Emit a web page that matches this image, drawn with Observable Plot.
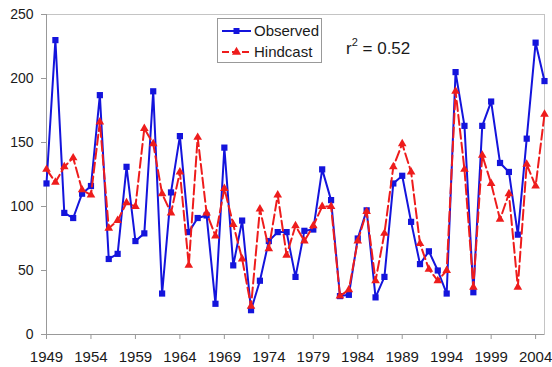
<!DOCTYPE html>
<html><head><meta charset="utf-8">
<script src="https://cdn.jsdelivr.net/npm/d3@7"></script>
<script src="https://cdn.jsdelivr.net/npm/@observablehq/plot@0.6"></script>
<style>
body{margin:0;background:#fff;font-family:"Liberation Sans",Arial,sans-serif;}
#wrap{position:relative;width:552px;height:367px;}
#legend{position:absolute;left:217px;top:18px;width:105px;height:45px;border:1px solid #999;background:#fff;box-sizing:border-box;}
#r2{position:absolute;left:346px;top:37px;font-size:17px;color:#1a1a1a;white-space:nowrap;}
#r2 sup{font-size:11px;position:relative;top:-1px;}
</style>
</head><body>
<div id="wrap"><div id="chart"></div><div id="legend"></div><div id="r2">r<sup>2</sup> = 0.52</div></div>
<script>
const years = [1949,1950,1951,1952,1953,1954,1955,1956,1957,1958,1959,1960,1961,1962,1963,1964,1965,1966,1967,1968,1969,1970,1971,1972,1973,1974,1975,1976,1977,1978,1979,1980,1981,1982,1983,1984,1985,1986,1987,1988,1989,1990,1991,1992,1993,1994,1995,1996,1997,1998,1999,2000,2001,2002,2003,2004,2005];
const observed = [118,230,95,91,110,116,187,59,63,131,73,79,190,32,111,155,80,91,93,24,146,54,89,19,42,73,80,80,45,81,82,129,105,30,31,75,97,29,45,118,124,88,55,65,50,32,205,163,33,163,182,134,127,78,153,228,198];
const hindcast = [129,119,131,138,113,109,166,83,89,103,100,161,149,110,95,127,54,154,95,77,114,86,59,22,98,67,109,62,85,73,85,100,100,30,35,73,96,42,79,131,149,127,71,51,42,50,190,129,37,140,118,90,110,37,133,116,172];
const xTicks = [1949,1954,1959,1964,1969,1974,1979,1984,1989,1994,1999,2004];
const yTicks = [0,50,100,150,200,250];
const seriesNames = ["Observed","Hindcast"];
const blue = "#1414dc", red = "#ee1c1c";

const data = years.map((year,i)=>({year, observed: observed[i], hindcast: hindcast[i]}));

const chart = Plot.plot({
  width:552, height:367,
  marginLeft:46, marginRight:8, marginTop:14, marginBottom:33,
  style:{fontFamily:"'Liberation Sans', Arial, sans-serif", fontSize:"14px", color:"#1a1a1a", background:"transparent"},
  x:{domain:[xTicks[0], years[years.length-1]]},
  y:{domain:[yTicks[0], yTicks[yTicks.length-1]]},
  marks:[
    Plot.frame({stroke:"#c4c4c4"}),
    Plot.ruleX([xTicks[0]],{stroke:"#999"}),
    Plot.ruleY([yTicks[0]],{stroke:"#999"}),
    Plot.axisY({ticks:yTicks, tickSize:5, tickPadding:8, label:null, stroke:"#999", fontSize:14}),
    Plot.axisX({ticks:xTicks, tickSize:5, tickPadding:12, label:null, stroke:"#999", tickFormat:d=>String(d), fontSize:15}),
    Plot.line(data,{x:"year", y:"observed", stroke:blue, strokeWidth:2}),
    Plot.dot(data,{x:"year", y:"observed", symbol:"square", fill:blue, r:3.5}),
    Plot.line(data,{x:"year", y:"hindcast", stroke:red, strokeWidth:2, strokeDasharray:"10,4"}),
    Plot.dot(data,{x:"year", y:"hindcast", symbol:"triangle", fill:red, r:3.2})
  ]
});
document.getElementById("chart").appendChild(chart);

// legend
const lg = d3.select("#legend").append("svg").attr("width",103).attr("height",43);
const items = [{name:seriesNames[0], color:blue, dash:null, sym:d3.symbolSquare},{name:seriesNames[1], color:red, dash:"7,3", sym:d3.symbolTriangle}];
items.forEach((it,i)=>{
  const cy = 12 + i*21;
  lg.append("line").attr("x1",4).attr("x2",33).attr("y1",cy).attr("y2",cy).attr("stroke",it.color).attr("stroke-width",2).attr("stroke-dasharray",it.dash);
  lg.append("path").attr("d",d3.symbol(it.sym,36)()).attr("transform",`translate(18.5,${cy})`).attr("fill",it.color);
  lg.append("text").attr("x",36).attr("y",cy).attr("dy","0.36em").attr("font-size",15).attr("fill","#1a1a1a").attr("font-family","'Liberation Sans', Arial, sans-serif").text(it.name);
});
</script>
</body></html>
